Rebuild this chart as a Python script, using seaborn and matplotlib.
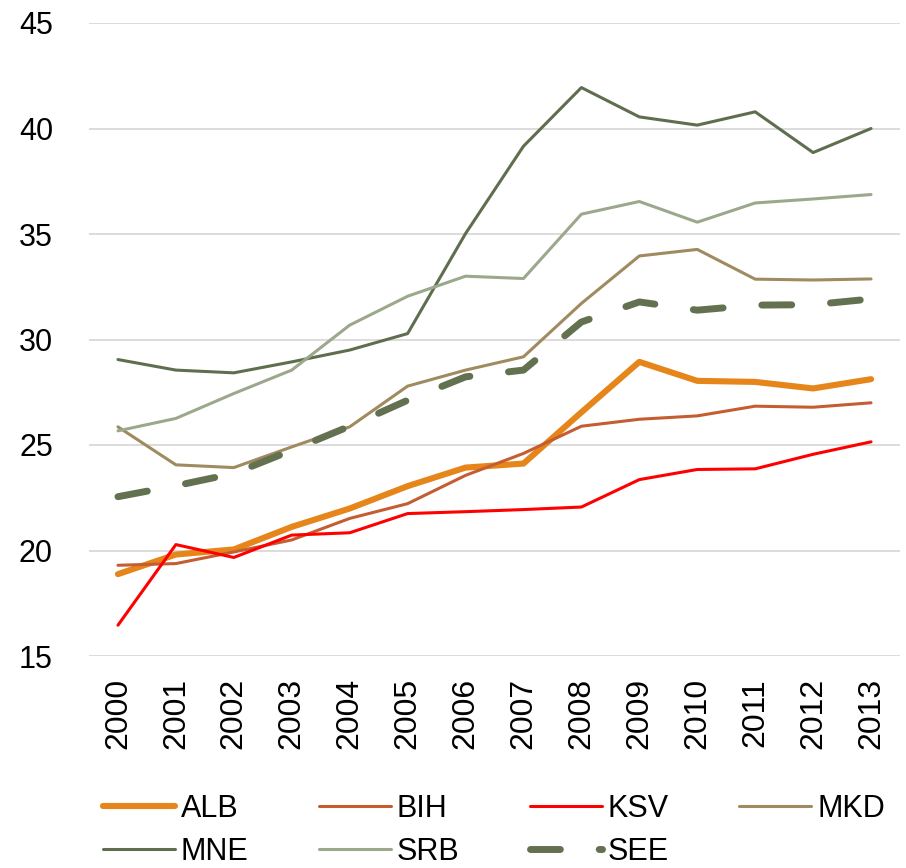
import matplotlib
matplotlib.use("Agg")
import matplotlib.pyplot as plt
import seaborn as sns
import pandas as pd

years = list(range(2000, 2014))
ALB = [18.88, 19.81, 20.05, 21.12, 21.99, 23.05, 23.93, 24.12, 26.55, 28.94, 28.04, 27.99, 27.68, 28.12]
BIH = [19.30, 19.38, 19.93, 20.50, 21.52, 22.22, 23.56, 24.60, 25.89, 26.22, 26.38, 26.84, 26.79, 27.00]
KSV = [16.46, 20.28, 19.67, 20.73, 20.84, 21.75, 21.84, 21.94, 22.06, 23.36, 23.84, 23.87, 24.56, 25.15]
MKD = [25.86, 24.06, 23.93, 24.91, 25.86, 27.79, 28.55, 29.18, 31.71, 33.96, 34.27, 32.86, 32.82, 32.87]
MNE = [29.05, 28.55, 28.42, 28.94, 29.50, 30.28, 35.02, 39.16, 41.94, 40.55, 40.16, 40.79, 38.86, 40.00]
SRB = [25.67, 26.26, 27.44, 28.55, 30.68, 32.05, 33.00, 32.89, 35.94, 36.54, 35.56, 36.47, 36.66, 36.87]
SEE = [22.55, 23.07, 23.65, 24.75, 25.89, 27.12, 28.23, 28.55, 30.83, 31.78, 31.39, 31.63, 31.65, 31.92]
y_ticks = [15, 20, 25, 30, 35, 40, 45]

series = {"ALB": ALB, "BIH": BIH, "KSV": KSV, "MKD": MKD, "MNE": MNE, "SRB": SRB, "SEE": SEE}
colors = {"ALB": "#E6861A", "BIH": "#C55D32", "KSV": "#FF0000", "MKD": "#A08A60",
          "MNE": "#5F6E4E", "SRB": "#9CA88C", "SEE": "#637150"}
widths = {"ALB": 4.4, "BIH": 2.2, "KSV": 2.2, "MKD": 2.2, "MNE": 2.2, "SRB": 2.2, "SEE": 5.0}

sns.set_style("white")
plt.rcParams["font.family"] = ["Liberation Sans", "DejaVu Sans"]
plt.rcParams["text.color"] = "black"
plt.rcParams["xtick.color"] = "black"
plt.rcParams["ytick.color"] = "black"

fig = plt.figure(figsize=(9.06, 8.68), dpi=100)
ax = fig.add_axes([89/906, 1-656/868, 811/906, 633/868])

df = pd.DataFrame({"year": years, **series})
for name in series:
    kw = {}
    if name == "SEE":
        kw["linestyle"] = (0, (4.3, 5.6))
    sns.lineplot(data=df, x="year", y=name, ax=ax, color=colors[name],
                 linewidth=widths[name], label=name, **kw)
for ln in ax.get_lines():
    ln.set_solid_capstyle("round")
    ln.set_dash_capstyle("round")
    ln.set_solid_joinstyle("round")

ax.set_xlim(1999.5, 2013.5)
ax.set_ylim(15, 45)
ax.set_yticks(y_ticks)
ax.set_xticks(years)
ax.set_xticklabels([str(y) for y in years], rotation=90, fontsize=23, color="black")
ax.set_yticklabels([str(v) for v in y_ticks], fontsize=22, color="black")
ax.set_xlabel("")
ax.set_ylabel("")
ax.grid(axis="y", color="#D9D9D9", linewidth=1.3)
ax.set_axisbelow(True)
for s in ax.spines.values():
    s.set_visible(False)
ax.tick_params(axis="y", length=0, pad=26)
ax.tick_params(axis="x", length=0, pad=16)

ax.get_legend().remove()
handles, labels = ax.get_legend_handles_labels()
hmap = dict(zip(labels, handles))
order = ["ALB", "MNE", "BIH", "SRB", "KSV", "SEE", "MKD"]
leg = fig.legend([hmap[k] for k in order], order, ncol=4, loc="lower left",
                 bbox_to_anchor=(100/906, -2/868), frameon=False, fontsize=22,
                 handlelength=2.35, handletextpad=0.2, columnspacing=2.3,
                 labelspacing=0.43, borderpad=0.1, borderaxespad=0)
for t in leg.get_texts():
    t.set_color("black")
for h in leg.get_lines():
    h.set_solid_capstyle("round")
    h.set_dash_capstyle("round")

fig.savefig("out.png", dpi=100)
